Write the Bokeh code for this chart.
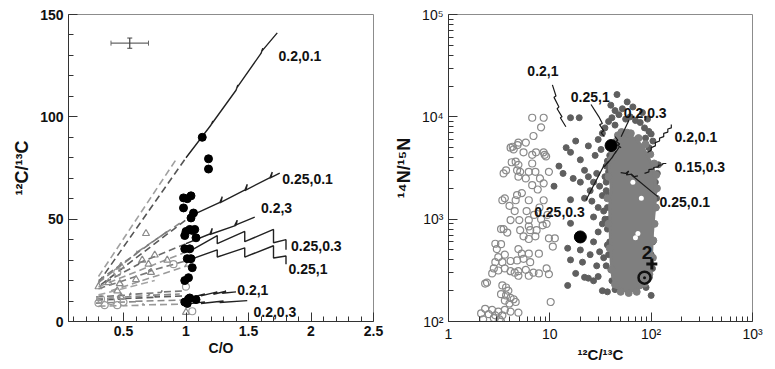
from bokeh.plotting import figure
from bokeh.layouts import row
from bokeh.models import FixedTicker, CustomJSTickFormatter, ColumnDataSource
from bokeh.embed import file_html
from bokeh.resources import INLINE
from bokeh.core.properties import value

FONT = "Liberation Sans"

# ---------------- Left panel data: C/O vs 12C/13C ----------------
co_ticks = [0.5, 1.0, 1.5, 2.0, 2.5]
co_minor = [0.1, 0.2, 0.3, 0.4, 0.6, 0.7, 0.8, 0.9, 1.1, 1.2, 1.3, 1.4, 1.6, 1.7, 1.8, 1.9, 2.1, 2.2, 2.3, 2.4]
cc_ticks = [0, 50, 100, 150]
cc_minor = [10, 20, 30, 40, 60, 70, 80, 90, 110, 120, 130, 140]

# observed stars (filled black)
obs_co = [1.13, 1.18, 1.18, 0.98, 1.01, 1.04, 0.98, 1.06, 1.04, 1.00, 1.03, 1.05, 1.07, 0.99, 1.08,
          0.99, 1.03, 1.01, 1.04, 1.05, 1.02, 0.99, 1.02, 1.03, 1.08, 0.99, 1.01]
obs_cc = [90.0, 79.5, 74.5, 60.4, 60.0, 61.4, 55.5, 53.0, 50.6, 44.0, 45.0, 44.5, 45.0, 42.0, 40.9,
          35.5, 35.5, 30.7, 30.7, 26.3, 21.4, 20.0, 11.0, 11.5, 10.7, 9.5, 8.8]

# error bar (typical uncertainty)
err_co, err_cc, err_dco, err_dcc = [0.55], [136.0], [0.15], [2.5]

# open grey triangles and circles
tri_co = [0.30, 0.38, 0.45, 0.47, 0.60, 0.48, 0.65, 0.70, 0.75, 0.85, 0.68, 1.02, 1.00, 0.48, 0.72]
tri_cc = [17.0, 19.0, 15.0, 18.5, 20.5, 12.0, 30.0, 28.0, 32.5, 30.0, 43.0, 28.0, 4.5, 27.0, 24.0]
oc_co = [0.30, 0.35, 0.45, 0.50, 1.00, 1.05, 0.45, 0.32, 0.90, 0.40]
oc_cc = [9.0, 8.0, 8.0, 9.5, 17.0, 5.0, 24.0, 11.0, 28.0, 10.0]

# model tracks, solid (C/O > 1) parts
trk_names = ["0.2,0.1", "0.25,0.1", "0.2,3", "0.25,0.3", "0.25,1", "0.2,1", "0.2,0.3"]
trk_co = [
    [1.00, 1.20, 1.215, 1.205, 1.40, 1.415, 1.405, 1.60, 1.615, 1.605, 1.73],
    [1.05, 1.28, 1.29, 1.27, 1.48, 1.49, 1.47, 1.68, 1.69, 1.67, 1.75],
    [1.00, 1.20, 1.21, 1.19, 1.40, 1.41, 1.39, 1.55],
    [1.02, 1.25, 1.25, 1.47, 1.47, 1.70, 1.70, 1.80, 1.80],
    [1.02, 1.25, 1.25, 1.47, 1.47, 1.70, 1.70, 1.80, 1.80],
    [1.00, 1.15, 1.12, 1.25, 1.22, 1.32, 1.29, 1.40],
    [1.00, 1.15, 1.12, 1.30, 1.27, 1.49],
]
trk_cc = [
    [80.0, 96.0, 98.0, 96.5, 113.0, 115.5, 114.0, 131.0, 133.5, 132.0, 141.0],
    [52.0, 58.5, 61.0, 58.0, 64.5, 67.0, 64.0, 70.5, 73.0, 70.0, 72.5],
    [38.0, 43.0, 45.5, 42.5, 47.0, 49.5, 47.0, 51.0],
    [34.0, 42.0, 38.0, 44.0, 39.0, 45.0, 38.5, 40.0, 35.0],
    [30.0, 35.0, 31.5, 36.0, 31.5, 37.0, 31.0, 32.0, 28.0],
    [11.0, 13.5, 12.5, 14.5, 13.3, 14.8, 13.8, 14.5],
    [8.5, 9.6, 8.8, 10.0, 9.3, 10.2],
]
lab_co = [1.74, 1.77, 1.60, 1.84, 1.82, 1.41, 1.54]
lab_cc = [129.5, 69.6, 55.5, 37.0, 25.8, 15.5, 4.4]

# model tracks, dashed grey (C/O < 1) parts
dash_co = [
    [0.30, 0.93], [0.30, 1.00], [0.30, 0.60, 0.61, 0.60, 0.95], [0.32, 1.05],
    [0.35, 0.62, 0.63, 0.62, 1.00], [0.30, 1.00], [0.30, 0.70, 0.71, 0.70, 1.02], [0.40, 1.00],
    [0.28, 0.55, 0.56, 0.55, 0.80, 0.81, 0.80, 1.00], [0.28, 0.50, 0.51, 0.50, 0.75, 0.76, 0.75, 1.00],
    [0.28, 0.60, 0.61, 0.60, 1.00], [0.30, 0.65, 0.66, 0.65, 1.00], [0.30, 0.75],
    [0.30, 0.85], [0.28, 0.45, 0.46, 0.45, 0.70, 0.71, 0.70, 0.95],
]
dash_cc = [
    [22.0, 80.0], [19.0, 80.0], [19.0, 33.0, 34.5, 33.5, 48.0], [18.0, 52.0],
    [19.0, 28.0, 29.5, 28.5, 38.0], [17.0, 34.0], [16.0, 24.0, 25.5, 24.5, 30.0], [15.0, 27.0],
    [12.0, 13.0, 14.0, 13.2, 14.2, 15.2, 14.4, 15.0], [10.5, 11.0, 12.0, 11.2, 11.8, 12.8, 12.0, 12.5],
    [9.0, 9.7, 10.7, 9.9, 10.5], [7.5, 7.9, 8.9, 8.1, 8.5], [13.0, 20.0],
    [20.0, 44.0], [11.0, 11.6, 12.6, 11.8, 12.6, 13.6, 12.8, 13.4],
]
dash_col = ["#a0a0a0", "#555555", "#8a8a8a", "#5a5a5a", "#6a6a6a", "#999999", "#777777",
            "#9a9a9a", "#777777", "#5a5a5a", "#888888", "#999999", "#a5a5a5", "#7a7a7a", "#888888"]

# ---------------- Right panel data: 12C/13C vs 14N/15N ----------------
# open grey circles
oc2_x = [6.9, 5.8, 4.9, 4.8, 4.1, 4.4, 5.5, 6.7, 8.9, 9.2, 4.6, 4.9, 4.75, 5.1, 4.9, 6.7, 6.2, 7.2, 3.5, 9.8,
         8.0, 8.7, 5.8, 6.7, 7.6, 4.75, 3.4, 4.6, 6.2, 8.7, 4.1, 6.2, 3.3, 3.5, 3.8, 5.1, 6.4, 7.4, 8.5, 9.3,
         6.2, 5.5, 6.2, 7.2, 9.8, 11.2, 10.7, 2.9, 3.0, 4.9, 5.3, 6.2, 7.8, 3.1, 2.9, 3.4, 4.1, 4.75, 5.5, 6.4,
         2.8, 3.1, 3.6, 4.1, 4.5, 4.9, 5.8, 6.9, 7.8, 9.8, 9.3, 2.7, 4.9, 6.2, 2.3, 3.4, 3.7, 3.9, 3.3, 3.7,
         4.1, 4.4, 4.6, 3.6, 4.0, 2.3, 2.7, 3.1, 3.6, 4.1, 3.4, 2.9, 2.1, 2.5, 4.9, 10.2, 3.2, 6.7, 8.7, 8.2,
         4.3, 7.3, 8.7, 3.7, 4.2, 3.6, 4.0, 5.3, 5.9, 4.5, 7.0, 8.2, 9.5, 5.0, 7.9, 3.3, 3.6, 2.4, 2.2, 2.8, 3.3]
oc2_y = [6500, 5600, 5600, 5300, 5000, 4800, 4500, 4250, 4250, 4100, 3650, 3400, 3000, 2900, 2600, 3500, 2900, 2900, 2800, 2900,
         2500, 2240, 2500, 2150, 1950, 1720, 1530, 1530, 1530, 1530, 980, 980, 800, 800, 740, 780, 780, 780, 870, 900,
         850, 680, 640, 680, 650, 650, 540, 575, 510, 510, 460, 460, 460, 425, 380, 380, 390, 395, 410, 380,
         330, 315, 330, 310, 300, 310, 320, 300, 295, 290, 330, 295, 280, 280, 235, 225, 215, 200, 185, 180,
         170, 165, 155, 160, 150, 133, 130, 125, 130, 125, 115, 115, 120, 118, 122, 155, 105, 9800, 9800, 7900,
         5100, 4500, 4500, 3000, 3600, 1600, 1350, 1800, 1200, 1200, 1100, 1000, 1100, 980, 1300, 570, 450, 240, 105, 108, 100]

# dark grey filled dots
dk_x = [46, 40, 44, 48, 41, 38, 52, 56, 62, 70, 78, 86, 95, 100, 104, 35, 33, 44, 30,
        16, 19.5, 16, 18, 12.3, 11, 13.5, 17, 16, 14.5,
        20, 22, 24, 27, 25, 29, 31, 33, 26, 30, 35, 36, 28, 32, 24, 36, 34, 27, 22, 20,
        16, 15, 16, 18, 15, 21, 22, 24, 27, 30, 33, 37, 27, 30, 33, 35, 31, 34, 36, 37, 29, 25, 20, 19,
        50, 58, 66, 78, 89, 100, 96, 44,
        110, 115, 108, 112, 106, 104, 100, 103, 98, 113, 118, 95, 88, 92, 82, 66, 58,
        39, 37, 38, 36, 38, 37, 38, 37, 39, 38, 40, 41]
dk_y = [16500, 13000, 11500, 10500, 9800, 9000, 12000, 9500, 10000, 9200, 8800, 7800, 7200, 6800, 5800, 7800, 6900, 8300, 6000,
        9800, 9800, 4500, 5800, 3300, 2100, 2800, 2500, 1550, 5000,
        3800, 3000, 2600, 2300, 1900, 2800, 2100, 1700, 1500, 1300, 2600, 3300, 4200, 4800, 5200, 1900, 1200, 1050, 1600, 2300,
        910, 520, 400, 295, 225, 380, 270, 265, 250, 275, 200, 195, 600, 750, 900, 1000, 480, 420, 350, 560, 350, 450, 500, 700,
        210, 205, 215, 225, 215, 180, 270, 205,
        2300, 2800, 1900, 1300, 900, 600, 450, 330, 380, 1600, 3400, 5000, 6200, 9500, 11000, 12500, 14000,
        4200, 3700, 2900, 2300, 1700, 1300, 1000, 800, 600, 450, 320, 250]

# dense cloud of the main sample (outline)
blob_x = [43.3, 54.4, 68.4, 82.7, 92.7, 104, 110, 110, 106, 103, 101, 99, 92.7, 79.6, 68.4, 54.4,
          45, 41.7, 40.2, 39.5, 38.9, 40.2, 38.6, 40.2]
blob_y = [5960, 6670, 6180, 5120, 4080, 3260, 2410, 1530, 1055, 725, 461, 341, 252, 217, 201, 201,
          217, 272, 396, 725, 1320, 2080, 3260, 4400]
# individual stars of the cloud sticking out of its outline
cloud_x = [47, 51, 58, 63, 75, 88, 98, 107, 112, 114, 111, 108, 105, 104, 96, 86, 72, 60, 50, 44, 41, 39, 38, 37, 38, 40, 42]
cloud_y = [6600, 7100, 7000, 6900, 6200, 5400, 4300, 3500, 2700, 2000, 1300, 900, 620, 420, 290, 235, 195, 190, 195, 230, 320, 520, 900, 1600, 2600, 3800, 5200]
# small empty gaps inside the cloud
hole_x = [74, 70, 80, 66]
hole_y = [725, 660, 1600, 2300]

# big black points
big_x = [40.2, 20.0]
big_y = [5240, 670]

# model tracks (zig-zags) and pointer lines
zz_x = [
    [10.6, 11.5, 11.0, 12.3, 11.8, 13.2, 12.7, 14.4],
    [30.5, 33.0, 31.0, 34.0, 32.0, 34.5],
    [44.0, 47.0, 45.0, 49.0, 46.5, 50.5],
    [34.5, 38.0, 37.0, 42.0, 40.5, 45.0, 44.0, 48.6],
    [92, 100, 100, 110, 110, 121, 121, 133, 133, 146, 146, 158, 158],
    [86, 95, 95, 106, 106, 118, 118, 130, 130, 141],
    [50, 56, 60, 57, 64, 68, 74],
]
zz_y = [
    [20500, 16000, 15500, 12500, 12000, 10000, 9800, 8000],
    [10000, 8600, 8400, 7300, 7000, 6400],
    [6400, 5900, 5800, 5400, 5300, 5000],
    [3250, 3700, 3500, 4100, 3900, 4600, 4400, 5100],
    [4500, 4700, 5000, 5200, 5600, 5800, 6200, 6400, 6900, 7100, 7600, 7800, 8400],
    [2800, 2900, 3050, 3100, 3200, 3250, 3350, 3400, 3500, 3500],
    [2850, 2800, 2950, 2700, 2750, 2600, 2650],
]
ptr_x = [[25.5, 30.5], [60.5, 50.5], [22.7, 34.5], [64.0, 116.0]]
ptr_y = [[13200, 10000], [9300, 6400], [1530, 3400], [2700, 1660]]

lab2_text = ["0.2,1", "0.25,1", "0.2,0.3", "0.2,0.1", "0.15,0.3", "0.25,0.1", "0.25,0.3"]
lab2_x = [6.0, 16.1, 53.7, 170, 170, 121, 7.0]
lab2_y = [27800, 15800, 10900, 6300, 3260, 1480, 1180]

mark_text_x, mark_text_y = [91.0], [470]
plus_x, plus_y = [101.5], [365]
odot_x, odot_y = [86.0], [268]

x2_major = [1, 10, 100, 1000]
y2_major = [100, 1000, 10000, 100000]


def style(p):
    p.xgrid.visible = False
    p.ygrid.visible = False
    p.outline_line_color = "#8c8c8c"
    p.outline_line_width = 1
    p.background_fill_color = "white"
    p.border_fill_color = "white"
    for ax in (p.xaxis[0], p.yaxis[0]):
        ax.axis_line_color = "#333333"
        ax.major_tick_in = 9
        ax.major_tick_out = 0
        ax.minor_tick_in = 5
        ax.minor_tick_out = 0
        ax.major_tick_line_color = "#333333"
        ax.minor_tick_line_color = "#333333"
        ax.major_label_text_font = FONT
        ax.major_label_text_font_style = "bold"
        ax.major_label_text_font_size = "14px"
        ax.major_label_text_color = "#111111"
        ax.axis_label_text_font = FONT
        ax.axis_label_text_font_style = "bold"
        ax.axis_label_text_color = "#111111"
    p.xaxis.major_label_standoff = 4
    p.xaxis.axis_label_standoff = 1
    p.yaxis.major_label_standoff = 5


# ---------------- Left figure ----------------
p1 = figure(frame_width=305, frame_height=307, x_range=(0.06, 2.5), y_range=(0, 150),
            output_backend="svg", toolbar_location=None,
            min_border_left=68, min_border_right=15, min_border_top=14, min_border_bottom=46)
style(p1)
p1.xaxis.ticker = FixedTicker(ticks=co_ticks, minor_ticks=co_minor)
p1.yaxis.ticker = FixedTicker(ticks=cc_ticks, minor_ticks=cc_minor)
p1.xaxis.formatter = CustomJSTickFormatter(code="return String(Math.round(tick*10)/10);")
p1.xaxis.axis_label = "C/O"
p1.xaxis.axis_label_text_font_size = "14px"
p1.yaxis.axis_label = "¹²C/¹³C"
p1.yaxis.axis_label_text_font_size = "18px"

p1.multi_line(dash_co, dash_cc, line_color=dash_col, line_width=1.6, line_dash="7 4")
p1.scatter(tri_co, tri_cc, marker="triangle", size=7, fill_color=None, line_color="#8a8a8a", line_width=1.2)
p1.scatter(oc_co, oc_cc, marker="circle", size=7, fill_color=None, line_color="#9a9a9a", line_width=1.2)
p1.multi_line(trk_co, trk_cc, line_color="#222222", line_width=1.4)
p1.scatter(obs_co, obs_cc, marker="circle", size=8, fill_color="black", line_color="black")
p1.text(lab_co, lab_cc, text=trk_names, text_font=value(FONT), text_font_style="bold",
        text_font_size="14px", text_baseline="middle", text_align="left", text_color="#111111")

esrc = ColumnDataSource(dict(x=err_co, y=err_cc,
                             x0=[a - b for a, b in zip(err_co, err_dco)], x1=[a + b for a, b in zip(err_co, err_dco)],
                             y0=[a - b for a, b in zip(err_cc, err_dcc)], y1=[a + b for a, b in zip(err_cc, err_dcc)]))
p1.segment("x0", "y", "x1", "y", source=esrc, line_color="#666666", line_width=1.2)
p1.segment("x", "y0", "x", "y1", source=esrc, line_color="#444444", line_width=1.2)
p1.scatter("x0", "y", source=esrc, marker="dash", angle=1.5708, size=5, line_color="#666666")
p1.scatter("x1", "y", source=esrc, marker="dash", angle=1.5708, size=5, line_color="#666666")
p1.scatter("x", "y0", source=esrc, marker="dash", size=5, line_color="#444444")
p1.scatter("x", "y1", source=esrc, marker="dash", size=5, line_color="#444444")

# ---------------- Right figure ----------------
p2 = figure(frame_width=304, frame_height=307, x_axis_type="log", y_axis_type="log",
            x_range=(1, 1000), y_range=(100, 100000),
            output_backend="svg", toolbar_location=None,
            min_border_left=60, min_border_right=15, min_border_top=14, min_border_bottom=46)
style(p2)
x2_minor = [m * d for d in (1, 10, 100) for m in range(2, 10)]
y2_minor = [m * d for d in (100, 1000, 10000) for m in range(2, 10)]
p2.xaxis.ticker = FixedTicker(ticks=x2_major, minor_ticks=x2_minor)
p2.yaxis.ticker = FixedTicker(ticks=y2_major, minor_ticks=y2_minor)
sup_js = "const s=['⁰','¹','²','³','⁴','⁵']; const e=Math.round(Math.log10(tick));"
p2.xaxis.formatter = CustomJSTickFormatter(code=sup_js + "if(e==0) return '1'; if(e==1) return '10'; return '10'+s[e];")
p2.yaxis.formatter = CustomJSTickFormatter(code=sup_js + "return '10'+s[e];")
p2.xaxis.axis_label = "¹²C/¹³C"
p2.xaxis.axis_label_text_font_size = "15px"
p2.yaxis.axis_label = "¹⁴N/¹⁵N"
p2.yaxis.axis_label_text_font_size = "18px"
p2.xaxis.major_label_text_font_style = "normal"
p2.yaxis.major_label_text_font_style = "normal"

p2.scatter(oc2_x, oc2_y, marker="circle", size=7, fill_color=None, line_color="#8a8a8a", line_width=1.2)
p2.scatter(dk_x, dk_y, marker="circle", size=6, fill_color="#5f5f5f", line_color="#5f5f5f")
p2.patch(blob_x, blob_y, fill_color="#7f7f7f", line_color="#7f7f7f", line_width=3)
p2.scatter(cloud_x, cloud_y, marker="circle", size=7, fill_color="#7f7f7f", line_color="#7f7f7f")
p2.scatter(hole_x, hole_y, marker="circle", size=5, fill_color="white", line_color=None)
p2.multi_line(zz_x, zz_y, line_color="#1a1a1a", line_width=1.2)
p2.multi_line(ptr_x, ptr_y, line_color="#1a1a1a", line_width=1.2)
p2.scatter(big_x, big_y, marker="circle", size=12, fill_color="black", line_color="black")
p2.text(lab2_x, lab2_y, text=lab2_text, text_font=value(FONT), text_font_style="bold",
        text_font_size="14px", text_baseline="middle", text_align="left", text_color="#111111")
p2.text(mark_text_x, mark_text_y, text=["2"], text_font=value(FONT), text_font_style="bold",
        text_font_size="19px", text_baseline="middle", text_align="center", text_color="#111111")
p2.scatter(plus_x, plus_y, marker="cross", size=11, line_color="#111111", line_width=3)
p2.scatter(odot_x, odot_y, marker="circle_dot", size=12, fill_color=None, line_color="#111111", line_width=2.5)

layout = row(p1, p2)
open("out.html", "w").write(file_html(layout, INLINE))
